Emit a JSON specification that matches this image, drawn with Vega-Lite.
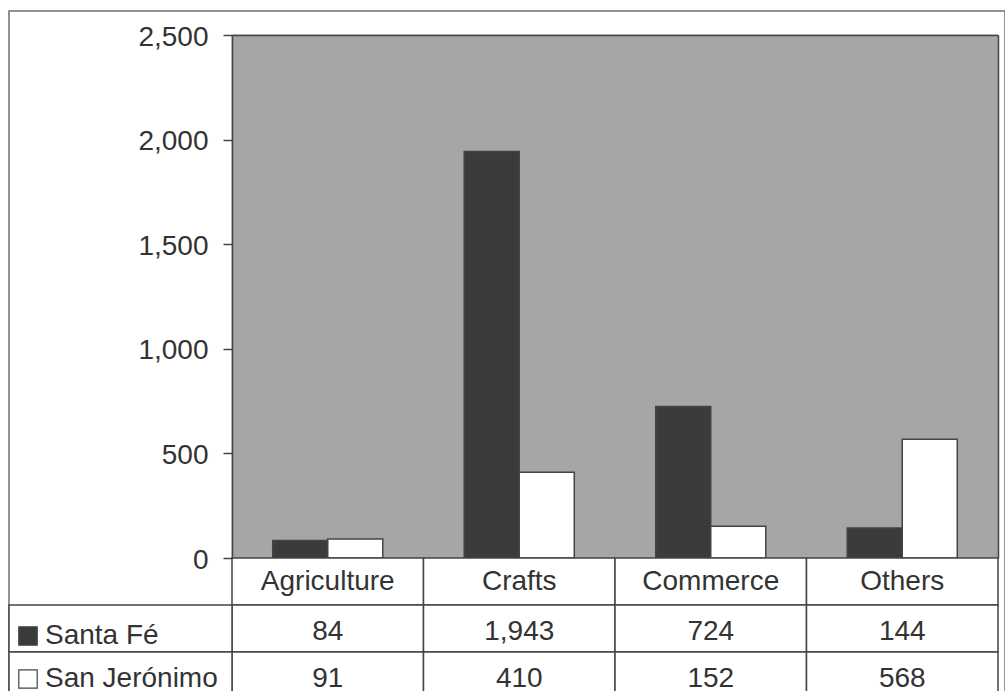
{
  "$schema": "https://vega.github.io/schema/vega-lite/v6.json",
  "width": 996,
  "height": 700,
  "autosize": {"type": "none"},
  "padding": {"left": 9, "top": 11, "right": 0, "bottom": 0},
  "background": "white",
  "config": {
    "view": {"stroke": "#707070", "strokeWidth": 1.5},
    "font": "Liberation Sans"
  },
  "datasets": {
    "bars": [
      {"category": "Agriculture", "series": "Santa Fé", "value": 84},
      {"category": "Agriculture", "series": "San Jerónimo", "value": 91},
      {"category": "Crafts", "series": "Santa Fé", "value": 1943},
      {"category": "Crafts", "series": "San Jerónimo", "value": 410},
      {"category": "Commerce", "series": "Santa Fé", "value": 724},
      {"category": "Commerce", "series": "San Jerónimo", "value": 152},
      {"category": "Others", "series": "Santa Fé", "value": 144},
      {"category": "Others", "series": "San Jerónimo", "value": 568}
    ],
    "cats": [
      {"category": "Agriculture"},
      {"category": "Crafts"},
      {"category": "Commerce"},
      {"category": "Others"}
    ],
    "rows": [
      {"series": "Santa Fé"},
      {"series": "San Jerónimo"}
    ]
  },
  "layer": [
    {
      "data": {"name": "cats"},
      "mark": {"type": "rect", "fill": "#a6a6a6", "stroke": "#a6a6a6", "strokeWidth": 1},
      "encoding": {
        "x": {
          "field": "category", "type": "nominal",
          "scale": {"domain": ["Agriculture", "Crafts", "Commerce", "Others"], "range": [223, 989], "paddingInner": 0, "paddingOuter": 0},
          "axis": {"orient": "top", "offset": -24, "domain": true, "domainColor": "#444", "domainWidth": 1.5, "ticks": false, "labels": false, "title": null, "zindex": 1}
        },
        "y": {
          "datum": 0, "type": "quantitative",
          "scale": {"domain": [0, 2500], "range": [547, 24], "nice": false, "zero": false},
          "axis": {"orient": "right", "offset": -7, "domain": true, "domainColor": "#444", "domainWidth": 1.5, "ticks": false, "labels": false, "grid": false, "title": null, "zindex": 1}
        },
        "y2": {"datum": 2500}
      }
    },
    {
      "data": {"name": "bars"},
      "mark": {"type": "bar", "stroke": "#444", "strokeWidth": 1.5},
      "encoding": {
        "x": {
          "field": "category", "type": "nominal",
          "scale": {"domain": ["Agriculture", "Crafts", "Commerce", "Others"], "range": [223, 989], "paddingInner": 0, "paddingOuter": 0},
          "axis": null
        },
        "xOffset": {
          "field": "series", "type": "nominal",
          "scale": {"domain": ["Santa Fé", "San Jerónimo"], "paddingInner": 0, "paddingOuter": 0.74}
        },
        "y": {
          "field": "value", "type": "quantitative",
          "scale": {"domain": [0, 2500], "range": [547, 24], "nice": false, "zero": false},
          "axis": {"orient": "left", "offset": -223, "values": [0, 500, 1000, 1500, 2000, 2500], "format": ",d", "labelFontSize": 28, "labelColor": "#333", "labelFont": "Liberation Sans", "tickSize": 9, "tickColor": "#444", "tickWidth": 1.5, "labelPadding": 15, "labelOffset": 2, "domain": true, "domainColor": "#444", "domainWidth": 1.5, "grid": false, "title": null, "zindex": 1}
        },
        "color": {
          "field": "series", "type": "nominal",
          "scale": {"domain": ["Santa Fé", "San Jerónimo"], "range": ["#3b3b3b", "#ffffff"]},
          "legend": {"orient": "none", "legendX": 5, "legendY": 611, "title": null, "symbolType": "square", "symbolSize": 340, "symbolStrokeColor": "#444", "symbolStrokeWidth": 1.2, "labelFontSize": 28, "labelFont": "Liberation Sans", "labelColor": "#333", "labelLimit": 400, "rowPadding": 15, "padding": 0, "labelOffset": 3, "zindex": 2}
        }
      }
    },
    {
      "layer": [
        {
          "data": {"name": "cats"},
          "mark": {"type": "rect", "fill": "white", "stroke": "#444", "strokeWidth": 1.5},
          "encoding": {
            "x": {"field": "category", "type": "nominal"},
            "y": {"datum": "header", "type": "nominal"}
          }
        },
        {
          "data": {"name": "bars"},
          "mark": {"type": "rect", "fill": "white", "stroke": "#444", "strokeWidth": 1.5},
          "encoding": {
            "x": {"field": "category", "type": "nominal"},
            "y": {"field": "series", "type": "nominal"}
          }
        },
        {
          "data": {"name": "cats"},
          "mark": {"type": "text", "fontSize": 28, "font": "Liberation Sans", "color": "#333", "align": "center", "baseline": "middle", "dy": 0},
          "encoding": {
            "x": {"field": "category", "type": "nominal"},
            "y": {"datum": "header", "type": "nominal"},
            "text": {"field": "category"}
          }
        },
        {
          "data": {"name": "bars"},
          "mark": {"type": "text", "fontSize": 28, "font": "Liberation Sans", "color": "#333", "align": "center", "baseline": "middle", "dy": 3},
          "encoding": {
            "x": {"field": "category", "type": "nominal"},
            "y": {"field": "series", "type": "nominal"},
            "text": {"field": "value", "type": "quantitative", "format": ",d"}
          }
        }
      ],
      "encoding": {
        "x": {
          "scale": {"domain": ["Agriculture", "Crafts", "Commerce", "Others"], "range": [223, 989], "paddingInner": 0, "paddingOuter": 0},
          "axis": null
        },
        "y": {
          "scale": {"domain": ["header", "Santa Fé", "San Jerónimo"], "range": [547, 688], "paddingInner": 0, "paddingOuter": 0},
          "axis": null
        }
      }
    },
    {
      "data": {"name": "rows"},
      "mark": {"type": "rect", "fill": "white", "stroke": "#444", "strokeWidth": 1.5},
      "encoding": {
        "x": {
          "datum": "label", "type": "nominal",
          "scale": {"domain": ["label"], "range": [0, 223], "paddingInner": 0, "paddingOuter": 0},
          "axis": null
        },
        "y": {
          "field": "series", "type": "nominal",
          "scale": {"domain": ["header", "Santa Fé", "San Jerónimo"], "range": [547, 688], "paddingInner": 0, "paddingOuter": 0},
          "axis": null
        }
      }
    }
  ],
  "resolve": {"scale": {"x": "independent", "y": "independent"}}
}
